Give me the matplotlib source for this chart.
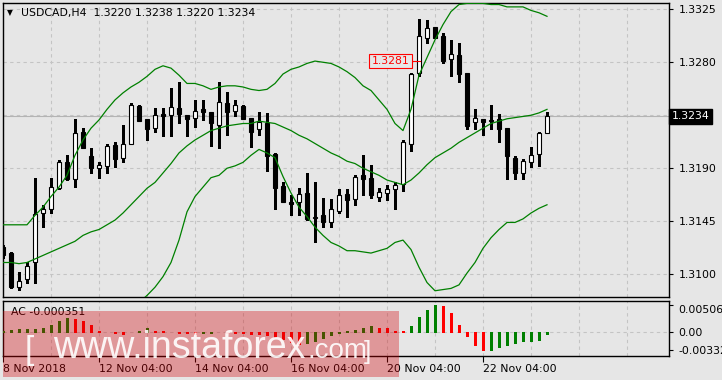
import numpy as np
import matplotlib
matplotlib.use("Agg")
from matplotlib import pyplot as plt
from matplotlib.patches import Rectangle
from matplotlib.transforms import blended_transform_factory

# USDCAD H4 candles (open, high, low, close)
opens = [1.3123, 1.3118, 1.3089, 1.3096, 1.3110, 1.3152, 1.3155, 1.3173, 1.3195, 1.3181,
         1.3221, 1.3200, 1.3190, 1.3192, 1.3210, 1.3199, 1.3211, 1.3243, 1.3232, 1.3224,
         1.3236, 1.3235, 1.3241, 1.3235, 1.3233, 1.3240, 1.3238, 1.3227, 1.3245, 1.3239,
         1.3243, 1.3233, 1.3223, 1.3228, 1.3202, 1.3175, 1.3161, 1.3161, 1.3169, 1.3148,
         1.3150, 1.3144, 1.3154, 1.3168, 1.3164, 1.3184, 1.3182, 1.3166, 1.3169, 1.3172,
         1.3177, 1.3211, 1.3271, 1.3301, 1.3310, 1.3302, 1.3283, 1.3286, 1.3271, 1.3229,
         1.3232, 1.3231, 1.3232, 1.3224, 1.3199, 1.3186, 1.3195, 1.3202, 1.3220]
highs = [1.3125, 1.3119, 1.3102, 1.3110, 1.3182, 1.3159, 1.3182, 1.3197, 1.3201, 1.3232,
         1.3224, 1.3207, 1.3195, 1.3211, 1.3212, 1.3227, 1.3245, 1.3244, 1.3232, 1.3241,
         1.3241, 1.3258, 1.3263, 1.3235, 1.3248, 1.3248, 1.3238, 1.3263, 1.3255, 1.3248,
         1.3244, 1.3233, 1.3238, 1.3237, 1.3203, 1.3178, 1.3167, 1.3173, 1.3186, 1.3178,
         1.3165, 1.3164, 1.3172, 1.3172, 1.3184, 1.3201, 1.3193, 1.3173, 1.3176, 1.3178,
         1.3214, 1.3271, 1.3317, 1.3316, 1.3310, 1.3305, 1.3299, 1.3296, 1.3271, 1.3240,
         1.3232, 1.3244, 1.3236, 1.3224, 1.3200, 1.3198, 1.3208, 1.3221, 1.3238]
lows = [1.3114, 1.3088, 1.3087, 1.3093, 1.3093, 1.3140, 1.3152, 1.3172, 1.3180, 1.3174,
        1.3207, 1.3186, 1.3182, 1.3186, 1.3191, 1.3195, 1.3211, 1.3230, 1.3214, 1.3221,
        1.3217, 1.3217, 1.3228, 1.3217, 1.3225, 1.3231, 1.3209, 1.3207, 1.3218, 1.3234,
        1.3232, 1.3208, 1.3218, 1.3188, 1.3155, 1.3161, 1.3150, 1.3150, 1.3146, 1.3127,
        1.3140, 1.3140, 1.3152, 1.3149, 1.3159, 1.3167, 1.3165, 1.3162, 1.3163, 1.3155,
        1.3171, 1.3205, 1.3268, 1.3296, 1.3301, 1.3279, 1.3268, 1.3263, 1.3223, 1.3223,
        1.3218, 1.3223, 1.3212, 1.3181, 1.3181, 1.3181, 1.3191, 1.3192, 1.3220]
closes = [1.3116, 1.3089, 1.3094, 1.3107, 1.3151, 1.3155, 1.3174, 1.3195, 1.3181, 1.3220,
          1.3207, 1.3190, 1.3193, 1.3209, 1.3198, 1.3211, 1.3244, 1.3230, 1.3223, 1.3235,
          1.3234, 1.3242, 1.3236, 1.3232, 1.3239, 1.3238, 1.3228, 1.3246, 1.3238, 1.3244,
          1.3232, 1.3221, 1.3229, 1.3200, 1.3173, 1.3161, 1.3160, 1.3168, 1.3147, 1.3149,
          1.3144, 1.3155, 1.3167, 1.3163, 1.3183, 1.3181, 1.3167, 1.3170, 1.3172, 1.3176,
          1.3212, 1.3270, 1.3302, 1.3309, 1.3301, 1.3281, 1.3287, 1.3270, 1.3226, 1.3233,
          1.3229, 1.3230, 1.3223, 1.3200, 1.3186, 1.3196, 1.3201, 1.3220, 1.3234]

# Bollinger bands (nan = below the visible area)
bb_upper = [1.3142, 1.3142, 1.3142, 1.3142, 1.3150, 1.3157, 1.3166, 1.3174, 1.3184, 1.3201,
            1.3214, 1.3224, 1.3231, 1.3240, 1.3248, 1.3254, 1.3259, 1.3263, 1.3268, 1.3274,
            1.3277, 1.3275, 1.3269, 1.3262, 1.3262, 1.3260, 1.3257, 1.3259, 1.3260, 1.3260,
            1.3259, 1.3257, 1.3256, 1.3257, 1.3262, 1.3270, 1.3274, 1.3276, 1.3279, 1.3281,
            1.3280, 1.3279, 1.3276, 1.3272, 1.3267, 1.3260, 1.3256, 1.3248, 1.3240, 1.3228,
            1.3222, 1.3240, 1.3269, 1.3284, 1.3299, 1.3312, 1.3323, 1.3329, 1.3330, 1.3330,
            1.3330, 1.3329, 1.3329, 1.3327, 1.3327, 1.3327, 1.3324, 1.3322, 1.3319]
bb_middle = [1.3110, 1.3110, 1.3109, 1.3110, 1.3113, 1.3116, 1.3119, 1.3122, 1.3125, 1.3128,
             1.3133, 1.3136, 1.3138, 1.3142, 1.3146, 1.3152, 1.3159, 1.3166, 1.3173, 1.3178,
             1.3186, 1.3194, 1.3203, 1.3209, 1.3214, 1.3218, 1.3222, 1.3224, 1.3226, 1.3227,
             1.3228, 1.3228, 1.3230, 1.3229, 1.3228, 1.3225, 1.3222, 1.3218, 1.3215, 1.3211,
             1.3207, 1.3203, 1.3200, 1.3196, 1.3194, 1.3190, 1.3187, 1.3184, 1.3180, 1.3178,
             1.3176, 1.3180, 1.3186, 1.3193, 1.3199, 1.3203, 1.3207, 1.3212, 1.3216, 1.3220,
             1.3224, 1.3228, 1.3230, 1.3232, 1.3233, 1.3234, 1.3235, 1.3237, 1.3240]
nan = float("nan")
bb_lower = [nan] * 17 + [
            1.3076, 1.3082, 1.3089, 1.3098, 1.3110, 1.3129, 1.3153, 1.3166, 1.3174, 1.3182,
            1.3184, 1.3190, 1.3192, 1.3195, 1.3201, 1.3206, 1.3203, 1.3199, 1.3183, 1.3169,
            1.3157, 1.3149, 1.3140, 1.3133, 1.3127, 1.3124, 1.3120, 1.3120, 1.3119, 1.3118,
            1.3120, 1.3122, 1.3127, 1.3129, 1.3121, 1.3106, 1.3093, 1.3086, 1.3087, 1.3088,
            1.3091, 1.3101, 1.3110, 1.3122, 1.3131, 1.3138, 1.3144, 1.3144, 1.3147, 1.3152,
            1.3156, 1.3159]

# Accelerator Oscillator values
ac_values = [0.00017, 0.00040, 0.00058, 0.00063, 0.00066, 0.00073, 0.00140, 0.00215, 0.00257, 0.00253,
             0.00204, 0.00127, 0.00030, 0.00005, -0.00021, -0.00027, -0.00006, 0.00030, 0.00070, 0.00030,
             0.00014, -0.00002, -0.00012, -0.00021, -0.00027, -0.00021, -0.00010, -0.00004, -0.00010, -0.00017,
             -0.00021, -0.00025, -0.00031, -0.00052, -0.00083, -0.00124, -0.00176, -0.00217, -0.00193, -0.00159,
             -0.00110, -0.00056, -0.00014, 0.00017, 0.00040, 0.00070, 0.00110, 0.00087, 0.00070, 0.00030,
             0.00023, 0.00110, 0.00274, 0.00419, 0.005062, 0.00489, 0.00349, 0.00140, -0.00077, -0.00234,
             -0.00332, -0.00325, -0.00275, -0.00234, -0.00193, -0.00172, -0.00166, -0.00139, -0.000351]

time_ticks = [0, 12, 24, 36, 48, 60]
time_labels = ["8 Nov 2018", "12 Nov 04:00", "14 Nov 04:00", "16 Nov 04:00",
               "20 Nov 04:00", "22 Nov 04:00"]
price_ticks = [1.3100, 1.3145, 1.3190, 1.3235, 1.3280, 1.3325]
ac_ticks = [-0.00332, 0.0, 0.005062]

BG = "#e6e6e6"
GRID = "#c4c4c4"
GREEN = "#008000"
W, H = 722, 380
FS = 7.8

plt.rcParams["font.family"] = ["DejaVu Sans"]

fig = plt.figure(figsize=(W / 100, H / 100), dpi=100, facecolor=BG)
ax = fig.add_axes([3 / W, (H - 297) / H, 666 / W, 294 / H], facecolor=BG)
ax2 = fig.add_axes([3 / W, (H - 356) / H, 666 / W, 55 / H], facecolor=BG)

x = np.arange(len(closes))
o = np.array(opens)
c = np.array(closes)

# grids
for a in (ax, ax2):
    a.set_xlim(0, 83.25)
    for gx in range(0, 84, 6):
        a.axvline(gx, color=GRID, lw=0.8, ls=(0, (3, 3)), zorder=0)
    for s in a.spines.values():
        s.set_color("black")
        s.set_linewidth(1)
for py in price_ticks:
    ax.axhline(py, color=GRID, lw=0.8, ls=(0, (3, 3)), zorder=0)
ax.axhline(closes[-1], color="#b4b4b4", lw=0.8, zorder=0)

# candles
ax.vlines(x, lows, highs, color="black", lw=1, zorder=2, antialiased=False)
body = np.maximum(np.abs(c - o), 0.00006)
fill = ["white" if cc >= oo else "black" for oo, cc in zip(opens, closes)]
ax.bar(x, body, bottom=np.minimum(o, c), width=0.6, color=fill,
       edgecolor="black", linewidth=0.8, zorder=3)

# Bollinger bands
for band in (bb_upper, bb_middle, bb_lower):
    ax.plot(x, band, color=GREEN, lw=0.9, zorder=4)

ax.set_ylim(1.30807, 1.33303)
ax.yaxis.tick_right()
ax.set_yticks(price_ticks)
ax.set_yticklabels(["1.3100", "1.3145", "1.3190", "", "1.3280", "1.3325"])
ax.tick_params(axis="y", length=3, width=0.8, pad=4, labelsize=FS, direction="out")
ax.set_xticks([])

# last price marker
tr = blended_transform_factory(ax.transAxes, ax.transData)
ax.text(1.004, closes[-1], "1.3234", transform=tr, color="white", fontsize=FS,
        va="center", ha="left", zorder=10, clip_on=False,
        bbox=dict(boxstyle="square,pad=0.25", fc="black", ec="black"))

# red price label
ax.plot([50.8, 52.1], [1.3281, 1.3281], color="red", lw=0.8, zorder=5)
ax.text(50.8, 1.3281, "1.3281", color="red", fontsize=FS, ha="right", va="center",
        zorder=6, bbox=dict(boxstyle="square,pad=0.2", fc=BG, ec="red", lw=0.8))

# header
fig.text(7 / W, 1 - 13 / H, "\u25bc", fontsize=5.5, va="center", ha="left")
fig.text(21 / W, 1 - 13 / H, "USDCAD,H4  1.3220 1.3238 1.3220 1.3234",
         fontsize=FS, va="center", ha="left")

# AC histogram
ac = np.array(ac_values)
ac_col = [GREEN] + [GREEN if ac[i] > ac[i - 1] else "red" for i in range(1, len(ac))]
ax2.vlines(x, 0, ac, colors=ac_col, lw=1, zorder=3, antialiased=False)
ax2.axhline(0, color=GRID, lw=0.8, ls=(0, (3, 3)), zorder=0)
ax2.set_ylim(-0.00444, 0.00581)
ax2.yaxis.tick_right()
ax2.set_yticks(ac_ticks)
ax2.set_yticklabels(["-0.00332", "0.00", "0.005062"])
ax2.tick_params(axis="y", length=3, width=0.8, pad=4, labelsize=FS)
ax2.get_yticklabels()[2].set_va("top")
ax2.set_xticks(time_ticks)
ax2.set_xticklabels(time_labels, ha="left")
ax2.tick_params(axis="x", length=4, width=0.8, pad=2, labelsize=FS)
ax2.text(8 / 666, 0.8, "AC -0.000351", transform=ax2.transAxes, fontsize=FS,
         va="center", ha="left")

# watermark
fig.add_artist(Rectangle((3 / W, 1 - 377 / H), 396 / W, 66 / H, transform=fig.transFigure,
                         facecolor=(0.83, 0.0, 0.02, 0.34), edgecolor="none", zorder=20))
fig.text(25 / W, 1 - 359 / H, "[", fontsize=24, color="white", alpha=0.9,
         family="Liberation Sans", zorder=21, va="baseline")
fig.text(53 / W, 1 - 358 / H, "www.instaforex", fontsize=27, color="white", alpha=0.9,
         family="Liberation Sans", zorder=21, va="baseline")
fig.text(307 / W, 1 - 358 / H, ".com", fontsize=20, color="white", alpha=0.9,
         family="Liberation Sans", zorder=21, va="baseline")
fig.text(364 / W, 1 - 359 / H, "]", fontsize=19, color="white", alpha=0.9,
         family="Liberation Sans", zorder=21, va="baseline")

fig.savefig("out.png", dpi=100, facecolor=BG)
